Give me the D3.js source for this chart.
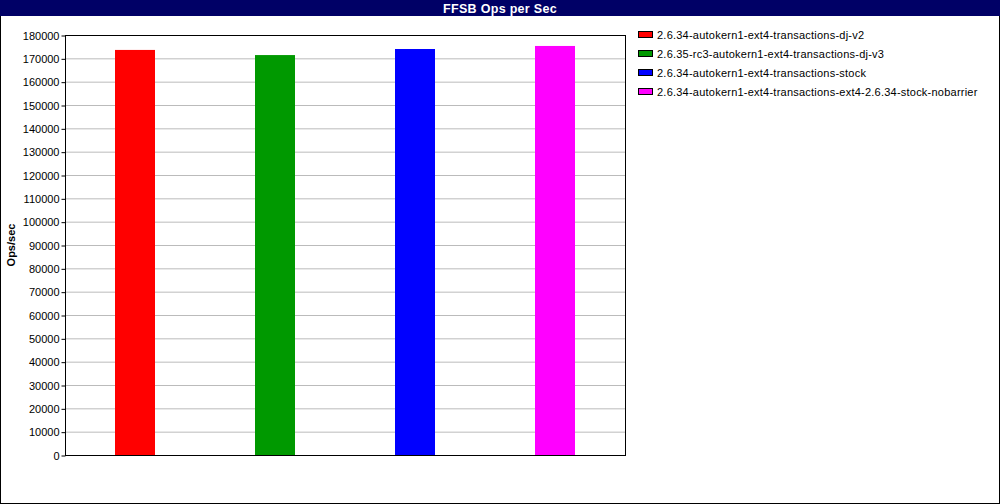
<!DOCTYPE html>
<html><head><meta charset="utf-8">
<script src="https://cdn.jsdelivr.net/npm/d3@7/dist/d3.min.js"></script>
<style>body{margin:0;background:#fff}svg{display:block;font-family:"Liberation Sans",Arial,sans-serif}</style>
</head><body><svg id="c" width="1000" height="504"></svg>
<script>
const categories = ["2.6.34-autokern1-ext4-transactions-dj-v2","2.6.35-rc3-autokern1-ext4-transactions-dj-v3","2.6.34-autokern1-ext4-transactions-stock","2.6.34-autokern1-ext4-transactions-ext4-2.6.34-stock-nobarrier"];
const values = [173600, 171400, 174000, 175300];
const colors = ["#ff0000","#009900","#0000ff","#ff00ff"];
const yTicks = d3.range(0, 180001, 10000);
const title = "FFSB Ops per Sec";
const yLabel = "Ops/sec";

const svg = d3.select("#c");
const W = 1000, H = 504;
svg.append("rect").attr("x",0.5).attr("y",0.5).attr("width",W-1).attr("height",H-1).attr("fill","#fff").attr("stroke","#000");
svg.append("rect").attr("x",0).attr("y",0).attr("width",W).attr("height",16).attr("fill","#000066");
svg.append("text").attr("x",500).attr("y",12.5).attr("text-anchor","middle").attr("fill","#fff")
  .attr("font-weight","bold").attr("font-size",12.5).attr("letter-spacing",0.3).text(title);

const m = {l:65, t:35, r:625, b:455};
const x = d3.scaleBand().domain(categories).range([m.l, m.r]);
const y = d3.scaleLinear().domain([0,180000]).range([m.b, m.t]);

const g = svg.append("g");
g.selectAll("line.grid").data(yTicks.filter(d=>d>0&&d<180000)).join("line")
  .attr("x1",m.l).attr("x2",m.r).attr("y1",d=>y(d)+0.5).attr("y2",d=>y(d)+0.5)
  .attr("stroke","#bbbbbb").attr("stroke-width",1);

g.selectAll("rect.bar").data(values).join("rect")
  .attr("x",(d,i)=>x(categories[i])+x.bandwidth()/2-20).attr("width",40)
  .attr("y",d=>y(d)).attr("height",d=>m.b-y(d)).attr("fill",(d,i)=>colors[i]);

svg.append("rect").attr("x",m.l+0.5).attr("y",m.t+0.5).attr("width",m.r-m.l).attr("height",m.b-m.t)
  .attr("fill","none").attr("stroke","#000").attr("stroke-width",1);

const ax = svg.append("g").attr("transform",`translate(${m.l+0.5},0.5)`)
  .call(d3.axisLeft(y).tickValues(yTicks).tickFormat(d3.format("d")).tickSize(4).tickPadding(2));
ax.select(".domain").remove();
ax.selectAll("text").attr("font-size",11).attr("fill","#000").attr("font-family","'Liberation Sans',Arial,sans-serif");
ax.selectAll("line").attr("stroke","#000");

svg.append("text").attr("transform","translate(15,245) rotate(-90)").attr("text-anchor","middle")
  .attr("font-weight","bold").attr("font-size",11).text(yLabel);

const lg = svg.append("g");
categories.forEach((c,i)=>{
  const yy = 31 + i*19;
  lg.append("rect").attr("x",638.5).attr("y",yy+0.5).attr("width",14).attr("height",6).attr("fill",colors[i]).attr("stroke","#000");
  lg.append("text").attr("x",657).attr("y",yy+8).attr("font-size",11).attr("letter-spacing",0.23).attr("fill","#000").text(c);
});
</script></body></html>
